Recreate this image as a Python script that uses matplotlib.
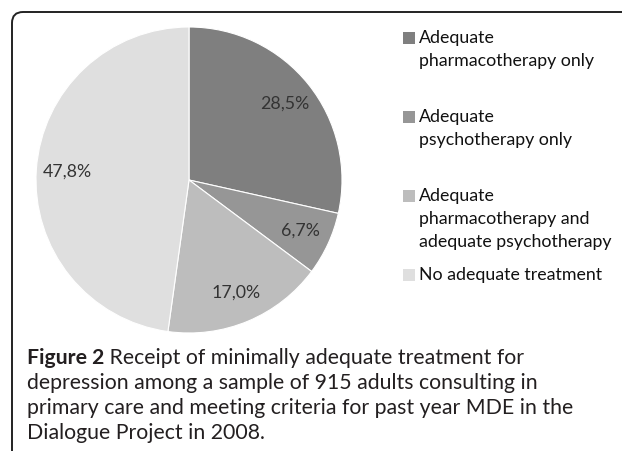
import matplotlib
matplotlib.use("Agg")
import matplotlib.pyplot as plt
from matplotlib.patches import FancyBboxPatch, Rectangle
from matplotlib.transforms import IdentityTransform

# data
categories = [
    "Adequate\npharmacotherapy only",
    "Adequate\npsychotherapy only",
    "Adequate\npharmacotherapy and\nadequate psychotherapy",
    "No adequate treatment",
]
shares = [28.5, 6.7, 17.0, 47.8]
slice_colors = ["#7f7f7f", "#969696", "#bdbdbd", "#dfdfdf"]

caption_bold = "Figure 2"
caption_lines = [
    " Receipt of minimally adequate treatment for",
    "depression among a sample of 915 adults consulting in",
    "primary care and meeting criteria for past year MDE in the",
    "Dialogue Project in 2008.",
]

W, H = 622, 451
plt.rcParams["font.family"] = ["Lato", "DejaVu Sans"]

fig = plt.figure(figsize=(W / 100, H / 100), dpi=100)
fig.patch.set_facecolor("white")


def px(x, y):
    # pixel coords (top-left origin) -> figure fraction
    return x / W, 1 - y / H


# rounded frame that runs off the right and bottom edges (pixel units)
frame = FancyBboxPatch((12, -100), W + 100, H - 12 + 100,
                       boxstyle="round,pad=0,rounding_size=11",
                       transform=IdentityTransform(), fill=False,
                       edgecolor="#222222", linewidth=1.4)
fig.add_artist(frame)

# pie
ax = fig.add_axes([36 / W, 1 - 333 / H, 306 / W, 306 / H])
wedges, _, autotexts = ax.pie(
    shares, colors=slice_colors, startangle=90, counterclock=False,
    autopct=lambda p: f"{p:.1f}".replace(".", ",") + "%",
    pctdistance=0.8, radius=1.0,
    wedgeprops=dict(edgecolor="white", linewidth=0.8),
    textprops=dict(fontsize=12.8, color="#333333"),
)
ax.set_xlim(-1, 1)
ax.set_ylim(-1, 1)
ax.set_aspect("equal")
ax.axis("off")

# legend, drawn by hand to keep Excel's equal slot spacing
for i, (lab, col) in enumerate(zip(categories, slice_colors)):
    y0 = 38 + i * 79
    x0, y0f = px(403, y0 + 6)
    fig.add_artist(Rectangle((x0, y0f), 12 / W, 12 / H, transform=fig.transFigure,
                             facecolor=col, edgecolor="none"))
    tx, ty = px(419, y0 - 8)
    fig.text(tx, ty, lab, fontsize=12.8, color="#111111", va="top", ha="left",
             linespacing=1.55)

# caption
r = fig.canvas.get_renderer()
cx, cy = px(27, 358)
t = fig.text(cx, cy, caption_bold, fontsize=15.3, fontweight="bold",
             color="#231f20", va="center", ha="left")
bb = t.get_window_extent(renderer=r)
fig.text(bb.x1 / W, cy, caption_lines[0], fontsize=15.3, color="#231f20",
         va="center", ha="left")
for k, line in enumerate(caption_lines[1:], start=1):
    lx, ly = px(27, 358 + k * 25)
    fig.text(lx, ly, line, fontsize=15.3, color="#231f20", va="center", ha="left")

fig.savefig("out.png", dpi=100)
